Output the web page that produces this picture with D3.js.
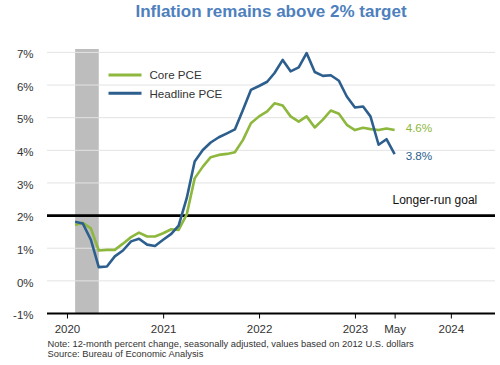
<!DOCTYPE html>
<html>
<head>
<meta charset="utf-8">
<script src="https://cdn.jsdelivr.net/npm/d3@7"></script>
<style>
  html, body { margin: 0; padding: 0; background: #fff; }
  svg { display: block; font-family: "Liberation Sans", Arial, sans-serif; }
</style>
</head>
<body>
<svg id="chart" width="500" height="365"></svg>
<script>
// ---- data ----
const months = [];
for (let y = 2020; y <= 2023; y++) {
  for (let m = 1; m <= 12; m++) {
    if (y === 2023 && m > 5) break;
    months.push(y + "-" + String(m).padStart(2, "0"));
  }
}
const headlinePCE = [
  1.81, 1.76, 1.26, 0.42, 0.44, 0.75, 0.93, 1.21, 1.29, 1.11, 1.07, 1.26,
  1.44, 1.69, 2.54, 3.66, 4.01, 4.24, 4.40, 4.52, 4.64, 5.24, 5.85, 5.97,
  6.10, 6.37, 6.77, 6.42, 6.54, 6.98, 6.40, 6.28, 6.30, 6.13, 5.65, 5.31,
  5.34, 5.04, 4.17, 4.34, 3.88
];
const corePCE = [
  1.71, 1.78, 1.61, 0.93, 0.95, 0.95, 1.14, 1.34, 1.48, 1.36, 1.36, 1.46,
  1.58, 1.56, 2.04, 3.14, 3.50, 3.79, 3.86, 3.89, 3.94, 4.32, 4.83, 5.04,
  5.19, 5.44, 5.37, 5.04, 4.88, 5.04, 4.70, 4.94, 5.22, 5.12, 4.78, 4.62,
  4.69, 4.65, 4.62, 4.67, 4.62
];
const seriesNames = ["Core PCE", "Headline PCE"];
const endLabels = ["4.6%", "3.8%"];
const yTicks = [-1, 0, 1, 2, 3, 4, 5, 6, 7];
const xTickLabels = ["2020", "2021", "2022", "2023", "May", "2024"];
const xTickDates = ["2020-01", "2021-01", "2022-01", "2023-01", "2023-06", "2024-01"];
const recession = ["2020-02", "2020-05"];
const target = 2;
const targetLabel = "Longer-run goal";
const title = "Inflation remains above 2% target";
const note = "Note: 12-month percent change, seasonally adjusted, values based on 2012 U.S. dollars";
const source = "Source: Bureau of Economic Analysis";

// ---- setup ----
const parse = d3.timeParse("%Y-%m");
const endOfMonth = s => d3.timeMonth.offset(parse(s), 1);
const svg = d3.select("#chart");
const colors = { core: "#8db73d", head: "#2c5e8e" };

const left = 47, right = 495;
const x = d3.scaleTime()
  .domain([d3.timeDay.offset(parse("2020-01"), -76), d3.timeDay.offset(parse("2024-01"), 168)])
  .range([left, right]);
const y = d3.scaleLinear().domain([-1, 7]).range([313.5, 52.4]);

// title
svg.append("text")
  .attr("x", (left + right) / 2).attr("y", 17)
  .attr("text-anchor", "middle")
  .attr("font-size", 17).attr("font-weight", "bold")
  .attr("fill", "#4d80bd")
  .text(title);

// recession bar
svg.append("rect")
  .attr("x", x(parse(recession[0])))
  .attr("width", x(parse(recession[1])) - x(parse(recession[0])))
  .attr("y", 49)
  .attr("height", y(-1) - 49)
  .attr("fill", "#bdbdbd");

// gridlines
svg.append("g").selectAll("line")
  .data(yTicks.filter(d => d !== -1 && d !== target))
  .join("line")
  .attr("x1", left).attr("x2", right)
  .attr("y1", d => y(d)).attr("y2", d => y(d))
  .attr("stroke", "#e3e3e3").attr("stroke-width", 1);

// y labels
svg.append("g").selectAll("text")
  .data(yTicks)
  .join("text")
  .attr("x", 33.5).attr("y", d => y(d) + 5.8)
  .attr("text-anchor", "end")
  .attr("font-size", 11.5).attr("fill", "#333")
  .text(d => d + "%");

// target line
svg.append("line")
  .attr("x1", left).attr("x2", right)
  .attr("y1", y(target)).attr("y2", y(target))
  .attr("stroke", "#000").attr("stroke-width", 2.6);
svg.append("text")
  .attr("x", 392.5).attr("y", 204)
  .attr("font-size", 12).attr("fill", "#111")
  .text(targetLabel);

// x axis
const xAxis = d3.axisBottom(x)
  .tickValues(xTickDates.map(parse))
  .tickSize(5)
  .tickFormat((d, i) => xTickLabels[i]);
const gx = svg.append("g").attr("transform", `translate(0,${y(-1)})`).call(xAxis);
gx.select(".domain").remove();
gx.selectAll(".tick line").attr("stroke", "#000").attr("stroke-width", 1);
gx.selectAll(".tick text").attr("font-size", 11.5).attr("fill", "#333")
  .attr("font-family", "Liberation Sans, Arial, sans-serif").attr("dy", 0).attr("y", 19);
svg.append("line")
  .attr("x1", left).attr("x2", right)
  .attr("y1", y(-1)).attr("y2", y(-1))
  .attr("stroke", "#000").attr("stroke-width", 1.8);

// lines
const line = d3.line().x((d, i) => x(endOfMonth(months[i]))).y(d => y(d));
svg.append("path").datum(corePCE).attr("d", line)
  .attr("fill", "none").attr("stroke", colors.core).attr("stroke-width", 2.6)
  .attr("stroke-linejoin", "round");
svg.append("path").datum(headlinePCE).attr("d", line)
  .attr("fill", "none").attr("stroke", colors.head).attr("stroke-width", 2.6)
  .attr("stroke-linejoin", "round");

// end labels
const lastIdx = months.length - 1;
const lastX = x(endOfMonth(months[lastIdx]));
svg.append("text").attr("x", lastX + 11).attr("y", y(corePCE[lastIdx]) + 2)
  .attr("font-size", 11.7).attr("fill", colors.core).text(endLabels[0]);
svg.append("text").attr("x", lastX + 11).attr("y", y(headlinePCE[lastIdx]) + 5.5)
  .attr("font-size", 11.7).attr("fill", colors.head).text(endLabels[1]);

// legend
const legend = svg.append("g");
[[seriesNames[0], colors.core, 75], [seriesNames[1], colors.head, 93.3]].forEach(([name, c, ly]) => {
  legend.append("line").attr("x1", 108.5).attr("x2", 141.5).attr("y1", ly).attr("y2", ly)
    .attr("stroke", c).attr("stroke-width", 3);
  legend.append("text").attr("x", 149.5).attr("y", ly + 4.3)
    .attr("font-size", 11.6).attr("fill", "#333").text(name);
});

// notes
svg.append("text").attr("x", 47.5).attr("y", 347)
  .attr("font-size", 9.35).attr("fill", "#333").text(note);
svg.append("text").attr("x", 47.5).attr("y", 357)
  .attr("font-size", 9.35).attr("fill", "#333").text(source);
</script>
</body>
</html>
